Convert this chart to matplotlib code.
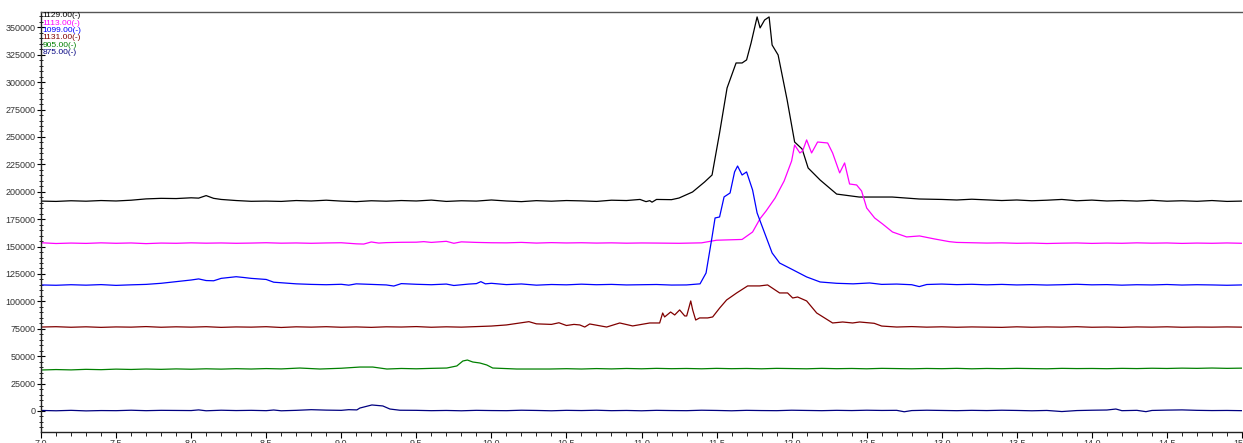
import matplotlib
matplotlib.use("Agg")
import matplotlib.pyplot as plt
from matplotlib.ticker import MultipleLocator

# ---- data ----
labels = ["1129.00(-)", "1113.00(-)", "1099.00(-)", "1131.00(-)", "905.00(-)", "875.00(-)"]
colors = ["#000000", "#ff00ff", "#0000ff", "#800000", "#008000", "#000080"]

x_1129 = [7.0, 7.1, 7.2, 7.3, 7.4, 7.5, 7.6, 7.7, 7.8, 7.9, 8.0, 8.05, 8.1, 8.15, 8.2, 8.3,
          8.4, 8.5, 8.6, 8.7, 8.8, 8.9, 9.0, 9.1, 9.2, 9.3, 9.4, 9.5, 9.6, 9.7, 9.8, 9.9,
          10.0, 10.1, 10.2, 10.3, 10.4, 10.5, 10.6, 10.7, 10.8, 10.9, 10.99, 11.03, 11.055,
          11.07, 11.1, 11.2, 11.25, 11.34, 11.42, 11.47, 11.52, 11.57, 11.63, 11.67, 11.70,
          11.73, 11.77, 11.79, 11.82, 11.85, 11.87, 11.91, 11.97, 12.02, 12.07, 12.11, 12.19,
          12.30, 12.45, 12.67, 12.85, 13.0, 13.1, 13.2, 13.3, 13.4, 13.5, 13.6, 13.7, 13.8,
          13.9, 14.0, 14.1, 14.2, 14.3, 14.4, 14.5, 14.6, 14.7, 14.8, 14.9, 15.0]
y_1129 = [191500, 191200, 191800, 191400, 192000, 191600, 192300, 193500, 194000, 193800,
          194500, 194200, 196500, 194000, 193000, 192000, 191300, 191500, 191200, 192000,
          191600, 192300, 191500, 191000, 191800, 191400, 192000, 191600, 192400, 191200,
          191800, 191500, 192500, 191600, 191000, 191900, 191400, 192000, 191700, 191200,
          192300, 192000, 193000, 191000, 191900, 190500, 193000, 192800, 194300, 199800,
          208900, 215300, 253600, 294700, 317500, 317500, 320300, 335800, 359500, 349500,
          356700, 359500, 333900, 324800, 283800, 245400, 239000, 221700, 210700, 197900,
          195200, 195200, 193400, 193000, 192500, 193200, 192600, 192000, 192500, 191800,
          192300, 193000, 191800, 192400, 191600, 192000, 191500, 192200, 191400, 191800,
          191300, 192000, 191200, 191500]

x_1113 = [7.0, 7.1, 7.2, 7.3, 7.4, 7.5, 7.6, 7.7, 7.8, 7.9, 8.0, 8.1, 8.2, 8.3, 8.4, 8.5,
          8.6, 8.7, 8.8, 8.9, 9.0, 9.1, 9.15, 9.2, 9.25, 9.3, 9.4, 9.5, 9.55, 9.6, 9.7, 9.75,
          9.8, 9.9, 10.0, 10.1, 10.2, 10.3, 10.4, 10.5, 10.6, 10.7, 10.8, 10.9, 11.0, 11.1,
          11.25, 11.4, 11.5, 11.67, 11.74, 11.79, 11.83, 11.89, 11.95, 12.00, 12.02, 12.055,
          12.073, 12.10, 12.133, 12.173, 12.24, 12.273, 12.32, 12.353, 12.386, 12.433, 12.466,
          12.50, 12.553, 12.606, 12.672, 12.766, 12.852, 12.95, 13.05, 13.1, 13.2, 13.3, 13.4,
          13.5, 13.6, 13.7, 13.8, 13.9, 14.0, 14.1, 14.2, 14.3, 14.4, 14.5, 14.6, 14.7, 14.8,
          14.9, 15.0]
y_1113 = [153500, 152800, 153200, 152900, 153400, 153000, 153300, 152700, 153200, 153000,
          153400, 153100, 153300, 153000, 153200, 153500, 153100, 153300, 153000, 153300,
          153500, 152500, 152300, 154200, 153200, 153600, 153900, 154000, 154500, 153800,
          154800, 153000, 154300, 153800, 153500, 153400, 153800, 153200, 153600, 153300,
          153500, 153200, 153400, 153100, 153300, 153200, 153000, 153400, 155800, 156500,
          163300, 175500, 182500, 194300, 209800, 228100, 242700, 235400, 237200, 247300,
          235400, 245400, 244500, 235400, 217200, 226300, 207100, 206200, 200700, 185200,
          176100, 170600, 163300, 158800, 159700, 157000, 154500, 153800, 153500, 153200,
          153400, 153000, 153200, 152800, 153100, 153300, 152900, 153200, 153000, 153400,
          153100, 153300, 152900, 153200, 153000, 153300, 153000]

x_1099 = [7.0, 7.1, 7.2, 7.3, 7.4, 7.5, 7.6, 7.7, 7.8, 7.9, 8.0, 8.05, 8.1, 8.15, 8.2, 8.3,
          8.35, 8.4, 8.5, 8.55, 8.6, 8.7, 8.8, 8.9, 9.0, 9.05, 9.1, 9.2, 9.3, 9.35, 9.4, 9.5,
          9.6, 9.7, 9.75, 9.85, 9.9, 9.93, 9.96, 10.0, 10.1, 10.2, 10.3, 10.4, 10.5, 10.6,
          10.7, 10.8, 10.9, 11.0, 11.1, 11.2, 11.3, 11.39, 11.43, 11.47, 11.49, 11.52, 11.55,
          11.59, 11.62, 11.64, 11.67, 11.70, 11.74, 11.77, 11.83, 11.87, 11.92, 12.01, 12.10,
          12.19, 12.30, 12.41, 12.52, 12.6, 12.7, 12.8, 12.85, 12.9, 13.0, 13.1, 13.2, 13.3,
          13.4, 13.5, 13.6, 13.7, 13.8, 13.9, 14.0, 14.1, 14.2, 14.3, 14.4, 14.5, 14.6, 14.7,
          14.8, 14.9, 15.0]
y_1099 = [115000, 114700, 115200, 114800, 115300, 114600, 115100, 115500, 116500, 118000,
          119500, 120500, 119000, 118800, 121000, 122500, 121800, 121000, 120000, 117500,
          117000, 116000, 115500, 115200, 115600, 114800, 116000, 115500, 115000, 114000,
          116200, 115600, 115200, 115800, 114500, 115800, 116200, 118000, 116000, 116500,
          115300, 115900, 114800, 115400, 115100, 115700, 115200, 115500, 115000, 115200,
          115400, 114900, 115000, 116000, 125900, 158800, 176100, 177000, 195300, 198900,
          218100, 223500, 215300, 218100, 201600, 180700, 158800, 144200, 135000, 128700,
          122300, 117700, 116500, 116000, 116800, 115500, 115800, 115200, 113500, 115400,
          115800, 115300, 115600, 115100, 115500, 115000, 115300, 114900, 115200, 115600,
          115100, 115300, 114800, 115200, 115000, 115400, 114900, 115200, 115000, 114700,
          115000]

x_1131 = [7.0, 7.1, 7.2, 7.3, 7.4, 7.5, 7.6, 7.7, 7.8, 7.9, 8.0, 8.1, 8.2, 8.3, 8.4, 8.5,
          8.6, 8.7, 8.8, 8.9, 9.0, 9.1, 9.2, 9.3, 9.4, 9.5, 9.6, 9.7, 9.8, 9.9, 10.0, 10.1,
          10.2, 10.25, 10.3, 10.4, 10.45, 10.5, 10.55, 10.589, 10.622, 10.655, 10.768, 10.855,
          10.941, 11.055, 11.121, 11.141, 11.154, 11.194, 11.221, 11.254, 11.288, 11.301,
          11.328, 11.341, 11.361, 11.387, 11.441, 11.474, 11.521, 11.567, 11.634, 11.707,
          11.787, 11.840, 11.920, 11.973, 12.007, 12.040, 12.100, 12.167, 12.273, 12.340,
          12.406, 12.453, 12.55, 12.6, 12.7, 12.8, 12.9, 13.0, 13.1, 13.2, 13.3, 13.4, 13.5,
          13.6, 13.7, 13.8, 13.9, 14.0, 14.1, 14.2, 14.3, 14.4, 14.5, 14.6, 14.7, 14.8, 14.9,
          15.0]
y_1131 = [76600, 76900, 76400, 76800, 76300, 76700, 76500, 77000, 76400, 76800, 76500, 76900,
          76300, 76700, 76500, 76900, 76200, 76800, 76500, 76900, 76400, 76700, 76300, 76800,
          76600, 77000, 76400, 76800, 76500, 77000, 77500, 78500, 80500, 81500, 79500, 79000,
          80500, 78000, 79000, 78500, 76600, 79400, 76600, 80300, 77600, 80300, 80300, 89400,
          85800, 90300, 87600, 92200, 86700, 86700, 100400, 92200, 83000, 84900, 84900, 85800,
          94000, 101300, 107700, 114100, 114100, 115000, 107700, 107700, 103100, 104000,
          100400, 89400, 80300, 81200, 80300, 81200, 80000, 77500, 76600, 77000, 76500, 76800,
          76400, 76700, 76500, 76300, 76800, 76400, 76700, 76500, 76900, 76400, 76600, 76300,
          76700, 76500, 76800, 76400, 76600, 76500, 76700, 76500]

x_905 = [7.0, 7.1, 7.2, 7.3, 7.4, 7.5, 7.6, 7.7, 7.8, 7.9, 8.0, 8.1, 8.2, 8.3, 8.4, 8.5, 8.6,
         8.724, 8.858, 9.0, 9.124, 9.21, 9.304, 9.4, 9.5, 9.6, 9.703, 9.77, 9.81, 9.84, 9.876,
         9.923, 9.969, 10.009, 10.169, 10.389, 10.5, 10.6, 10.7, 10.8, 10.9, 11.0, 11.1, 11.2,
         11.3, 11.4, 11.5, 11.6, 11.7, 11.8, 11.9, 12.0, 12.1, 12.2, 12.3, 12.4, 12.5, 12.6,
         12.7, 12.8, 12.9, 13.0, 13.1, 13.2, 13.3, 13.4, 13.5, 13.6, 13.7, 13.8, 13.9, 14.0,
         14.1, 14.2, 14.3, 14.4, 14.5, 14.6, 14.7, 14.8, 14.9, 15.0]
y_905 = [37400, 37800, 37500, 38000, 37700, 38200, 37900, 38300, 38000, 38400, 38100, 38500,
         38200, 38600, 38300, 38700, 38400, 39200, 38300, 39000, 40100, 40100, 38300, 38800,
         38500, 38900, 39200, 41100, 45600, 46500, 44700, 43800, 42000, 39200, 38300, 38300,
         38600, 38300, 38700, 38400, 38800, 38500, 38900, 38600, 38800, 38500, 38900, 38600,
         38800, 38500, 38900, 38700, 38500, 38900, 38600, 38800, 38500, 38900, 38700, 38500,
         38800, 38600, 38900, 38500, 38800, 38600, 38900, 38700, 38500, 38900, 38700, 38800,
         38600, 38900, 38700, 39000, 38800, 39100, 38900, 39200, 38900, 39100]

x_875 = [7.0, 7.1, 7.2, 7.3, 7.4, 7.5, 7.6, 7.7, 7.8, 7.9, 8.0, 8.05, 8.1, 8.2, 8.3, 8.4, 8.5,
         8.55, 8.6, 8.7, 8.8, 8.9, 9.0, 9.05, 9.104, 9.124, 9.204, 9.277, 9.324, 9.39, 9.5,
         9.6, 9.7, 9.8, 9.9, 10.0, 10.1, 10.2, 10.3, 10.4, 10.5, 10.6, 10.7, 10.8, 10.9, 11.0,
         11.1, 11.2, 11.3, 11.4, 11.5, 11.6, 11.7, 11.8, 11.9, 12.0, 12.1, 12.2, 12.3, 12.4,
         12.5, 12.6, 12.7, 12.75, 12.8, 12.9, 13.0, 13.1, 13.2, 13.3, 13.4, 13.5, 13.6, 13.7,
         13.8, 13.9, 14.0, 14.1, 14.16, 14.2, 14.3, 14.36, 14.4, 14.5, 14.6, 14.7, 14.8, 14.9,
         15.0]
y_875 = [500, 200, 600, 100, 400, 300, 700, 300, 600, 500, 400, 1000, 200, 700, 400, 600, 300,
         900, 200, 600, 1200, 800, 600, 1200, 1000, 2700, 5500, 4600, 1800, 700, 600, 300, 500,
         200, 600, 400, 300, 700, 500, 200, 600, 400, 700, 300, 500, 200, 600, 400, 300, 700,
         500, 200, 600, 400, 300, 700, 500, 300, 600, 400, 700, 500, 600, -700, 400, 700, 500,
         300, 600, 400, 700, 500, 200, 500, -500, 400, 700, 900, 1800, 300, 600, -600, 500,
         800, 1000, 600, 400, 500, 300]

xs = [x_1129, x_1113, x_1099, x_1131, x_905, x_875]
ys = [y_1129, y_1113, y_1099, y_1131, y_905, y_875]

plt.rcParams['font.family'] = ['Liberation Sans', 'DejaVu Sans']

fig = plt.figure(figsize=(12.43, 4.43), dpi=100)
ax = fig.add_axes([41 / 1243, 1 - 432 / 443, 1 - 42 / 1243, 420 / 443])

for x, y, c in zip(xs, ys, colors):
    ax.plot(x, y, color=c, lw=0.9)

ax.set_xlim(7.0, 15.0)
ax.set_ylim(-19160, 364000)
ax.xaxis.set_major_locator(MultipleLocator(0.5))
ax.xaxis.set_minor_locator(MultipleLocator(0.1))
ax.yaxis.set_major_locator(MultipleLocator(25000))
ax.yaxis.set_minor_locator(MultipleLocator(5000))
ax.xaxis.set_major_formatter(matplotlib.ticker.FormatStrFormatter('%.1f'))
ax.yaxis.set_major_formatter(matplotlib.ticker.FormatStrFormatter('%d'))

ax.tick_params(axis='y', which='major', direction='inout', length=6, width=0.8,
               labelsize=6.5, pad=1, labelcolor='#333333')
ax.tick_params(axis='y', which='minor', direction='inout', length=3, width=0.6)
ax.tick_params(axis='x', which='major', direction='out', length=4, width=0.8,
               labelsize=6.5, pad=1, labelcolor='#333333')
ax.tick_params(axis='x', which='minor', direction='out', length=3, width=0.6)

for side in ['left', 'bottom']:
    ax.spines[side].set_color('#222222')
    ax.spines[side].set_linewidth(1.0)
ax.spines['top'].set_color('#555555')
ax.spines['top'].set_linewidth(1.0)
ax.spines['right'].set_visible(False)

# small legend block in the top-left corner
for i, (lab, c) in enumerate(zip(labels, colors)):
    ax.text(0.001, 0.999 - i * 0.0175, lab, color=c, fontsize=6, transform=ax.transAxes,
            ha='left', va='top')

fig.savefig('out.png', dpi=100)
